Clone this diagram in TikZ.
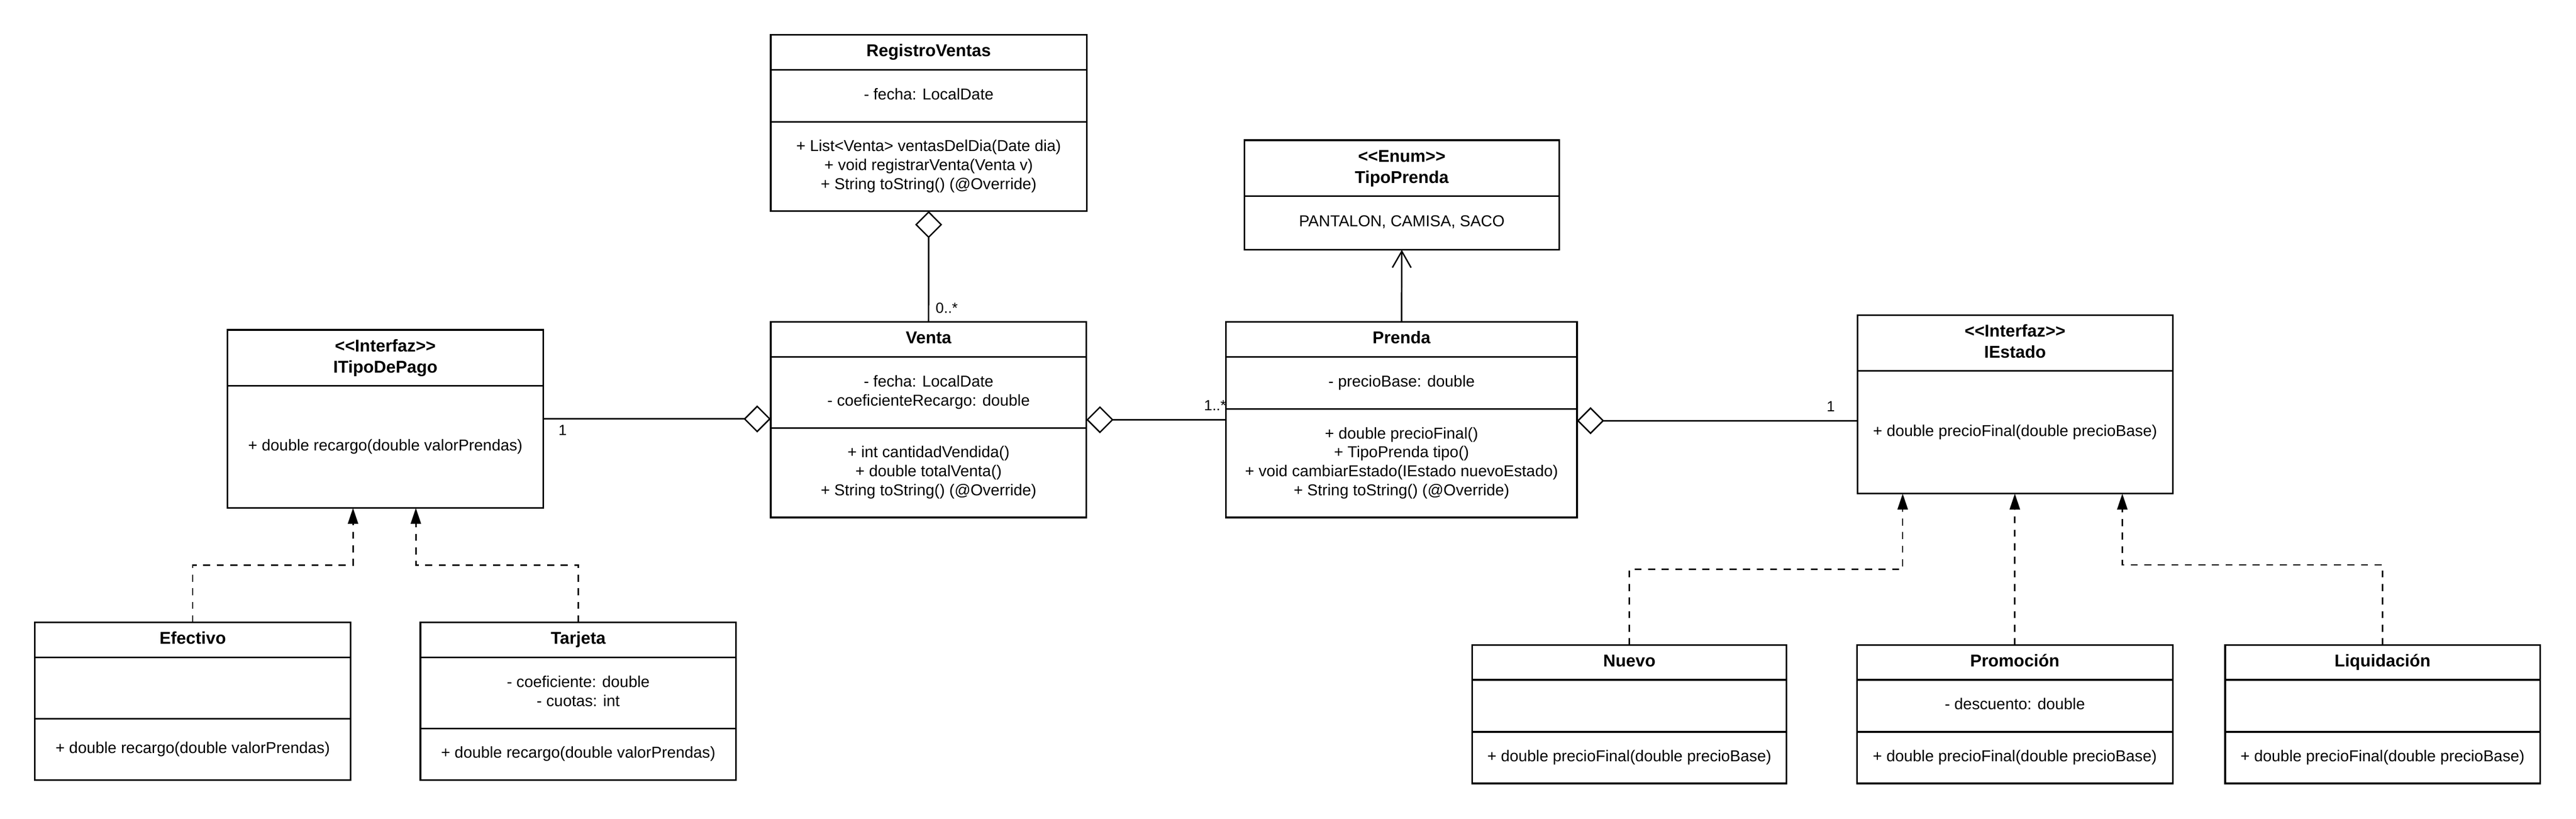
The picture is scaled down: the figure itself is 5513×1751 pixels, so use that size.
\documentclass[tikz,border=0pt]{standalone}
\usepackage{fontspec}
\newfontfamily\umlfont{Liberation Sans}
\usetikzlibrary{arrows.meta,fit}
\begin{document}
\begin{tikzpicture}[x=0.25pt,y=-0.25pt,
  comp/.style={draw, line width=0.875pt, inner sep=0pt, outer sep=0pt},
  whole/.style={inner sep=0pt, outer sep=0pt},
  txt/.style={inner sep=0pt, outer sep=0pt, align=center, anchor=center,
    font=\umlfont\fontsize{8.45pt}{10.125pt}\selectfont},
  ttl/.style={txt, font=\umlfont\bfseries\fontsize{9.15pt}{11pt}\selectfont},
  hdr/.style={txt, font=\umlfont\bfseries\fontsize{9.15pt}{11.3pt}\selectfont},
  mult/.style={inner sep=0pt, font=\umlfont\fontsize{7.875pt}{9.5pt}\selectfont},
  conn/.style={line width=0.75pt},
  aggr/.style={conn, {Diamond[open, length=14.5pt, width=14.5pt]}-},
  real/.style={conn, dash pattern=on 3.75pt off 3.5pt, -{Triangle[length=8.5pt, width=5.5pt]}},
  dep/.style={conn, -{Straight Barb[length=8.75pt, width=10pt]}}
]
\fill[white] (0,0) rectangle (5513,1751);
\useasboundingbox (0,0) rectangle (5513,1751);

% RegistroVentas
\node[comp, fit={(1649.5,74.8) (2325.5,149.4)}] (rv-h) {};
\node[comp, fit={(1649.5,149.4) (2325.5,261)}] (rv-a) {};
\node[comp, fit={(1649.5,261) (2325.5,451.6)}] (rv-m) {};
\node[whole, fit=(rv-h)(rv-m)] (rv) {};
\node[ttl] (rv-ht) at (rv-h.center) {\strut RegistroVentas};
\node[txt] (rv-at) at (rv-a.center) {\strut - fecha: LocalDate};
\node[txt] (rv-mt) at (rv-m.center) {\strut + List<Venta> ventasDelDia(Date dia)\\ \strut + void registrarVenta(Venta v)\\ \strut + String toString() (@Override)};

% Venta
\node[comp, fit={(1649.5,689) (2325,763.7)}] (ve-h) {};
\node[comp, fit={(1649.5,763.7) (2325,916)}] (ve-a) {};
\node[comp, fit={(1649.5,916) (2325,1107)}] (ve-m) {};
\node[whole, fit=(ve-h)(ve-m)] (ve) {};
\node[ttl] (ve-ht) at (ve-h.center) {\strut Venta};
\node[txt] (ve-at) at (ve-a.center) {\strut - fecha: LocalDate\\ \strut - coeficienteRecargo: double};
\node[txt] (ve-mt) at (ve-m.center) {\strut + int cantidadVendida()\\ \strut + double totalVenta()\\ \strut + String toString() (@Override)};

% Prenda
\node[comp, fit={(2624,688.5) (3375,763.5)}] (pr-h) {};
\node[comp, fit={(2624,763.5) (3375,875)}] (pr-a) {};
\node[comp, fit={(2624,875) (3375,1107)}] (pr-m) {};
\node[whole, fit=(pr-h)(pr-m)] (pr) {};
\node[ttl] (pr-ht) at (pr-h.center) {\strut Prenda};
\node[txt] (pr-at) at (pr-a.center) {\strut - precioBase: double};
\node[txt] (pr-mt) at (pr-m.center) {\strut + double precioFinal()\\ \strut + TipoPrenda tipo()\\ \strut + void cambiarEstado(IEstado nuevoEstado)\\ \strut + String toString() (@Override)};

% TipoPrenda
\node[comp, fit={(2663,300) (3337,419.6)}] (tp-h) {};
\node[comp, fit={(2663,419.6) (3337,534.5)}] (tp-a) {};
\node[whole, fit=(tp-h)(tp-a)] (tp) {};
\node[hdr] (tp-ht) at (tp-h.center) {\strut <<Enum>>\\ \strut TipoPrenda};
\node[txt] (tp-at) at (tp-a.center) {\strut PANTALON, CAMISA, SACO};

% ITipoDePago
\node[comp, fit={(487,705.7) (1162.5,825.7)}] (itp-h) {};
\node[comp, fit={(487,825.7) (1162.5,1086.7)}] (itp-m) {};
\node[whole, fit=(itp-h)(itp-m)] (itp) {};
\node[hdr] (itp-ht) at (itp-h.center) {\strut <<Interfaz>>\\ \strut ITipoDePago};
\node[txt] (itp-mt) at (itp-m.center) {\strut + double recargo(double valorPrendas)};

% IEstado
\node[comp, fit={(3975,674.4) (4650,793.6)}] (ie-h) {};
\node[comp, fit={(3975,793.6) (4650,1056)}] (ie-m) {};
\node[whole, fit=(ie-h)(ie-m)] (ie) {};
\node[hdr] (ie-ht) at (ie-h.center) {\strut <<Interfaz>>\\ \strut IEstado};
\node[txt] (ie-mt) at (ie-m.center) {\strut + double precioFinal(double precioBase)};

% Efectivo
\node[comp, fit={(74.7,1331.6) (750.3,1406.7)}] (ef-h) {};
\node[comp, fit={(74.7,1406.7) (750.3,1537.7)}] (ef-a) {};
\node[comp, fit={(74.7,1537.7) (750.3,1669)}] (ef-m) {};
\node[whole, fit=(ef-h)(ef-m)] (ef) {};
\node[ttl] (ef-ht) at (ef-h.center) {\strut Efectivo};
\node[txt] (ef-mt) at (ef-m.center) {\strut + double recargo(double valorPrendas)};

% Tarjeta
\node[comp, fit={(899.7,1331.6) (1575.3,1406.7)}] (ta-h) {};
\node[comp, fit={(899.7,1406.7) (1575.3,1558.3)}] (ta-a) {};
\node[comp, fit={(899.7,1558.3) (1575.3,1669)}] (ta-m) {};
\node[whole, fit=(ta-h)(ta-m)] (ta) {};
\node[ttl] (ta-ht) at (ta-h.center) {\strut Tarjeta};
\node[txt] (ta-at) at (ta-a.center) {\strut - coeficiente: double\\ \strut - cuotas: int};
\node[txt] (ta-mt) at (ta-m.center) {\strut + double recargo(double valorPrendas)};

% Nuevo
\node[comp, fit={(3151,1380.3) (3823,1454.4)}] (nu-h) {};
\node[comp, fit={(3151,1454.4) (3823,1565.6)}] (nu-a) {};
\node[comp, fit={(3151,1565.6) (3823,1676)}] (nu-m) {};
\node[whole, fit=(nu-h)(nu-m)] (nu) {};
\node[ttl] (nu-ht) at (nu-h.center) {\strut Nuevo};
\node[txt] (nu-mt) at (nu-m.center) {\strut + double precioFinal(double precioBase)};

% Promocion
\node[comp, fit={(3974,1380.3) (4650,1454.4)}] (po-h) {};
\node[comp, fit={(3974,1454.4) (4650,1565.6)}] (po-a) {};
\node[comp, fit={(3974,1565.6) (4650,1676)}] (po-m) {};
\node[whole, fit=(po-h)(po-m)] (po) {};
\node[ttl] (po-ht) at (po-h.center) {\strut Promoción};
\node[txt] (po-at) at (po-a.center) {\strut - descuento: double};
\node[txt] (po-mt) at (po-m.center) {\strut + double precioFinal(double precioBase)};

% Liquidacion
\node[comp, fit={(4762,1380.3) (5436,1454.4)}] (li-h) {};
\node[comp, fit={(4762,1454.4) (5436,1565.6)}] (li-a) {};
\node[comp, fit={(4762,1565.6) (5436,1676)}] (li-m) {};
\node[whole, fit=(li-h)(li-m)] (li) {};
\node[ttl] (li-ht) at (li-h.center) {\strut Liquidación};
\node[txt] (li-mt) at (li-m.center) {\strut + double precioFinal(double precioBase)};

% helper coordinates
\coordinate (yIE) at (0,900);
\coordinate (yEF) at (0,1209);
\coordinate (yNU) at (0,1217.6);
\coordinate (yLI) at (0,1208.4);
\coordinate (xITa) at (755.5,0);
\coordinate (xITb) at (890,0);
\coordinate (xIEa) at (4072,0);
\coordinate (xIEc) at (4542,0);

% associations
\draw[aggr] (rv.south) -- (ve.north);
\draw[aggr] (itp.east -| ve.west) -- (itp.east);
\draw[aggr] (ve.east) -- (ve.east -| pr.west);
\draw[aggr] (pr.east |- yIE) -- (ie.west |- yIE);
\draw[dep] (pr.north) -- (tp.south);

% realizations
\draw[real] (ef.north) |- (xITa |- yEF) -- (xITa |- itp.south);
\draw[real] (ta.north) |- (xITb |- yEF) -- (xITb |- itp.south);
\draw[real] (nu.north) |- (xIEa |- yNU) -- (xIEa |- ie.south);
\draw[real] (po.north) -- (po.north |- ie.south);
\draw[real] (li.north) |- (xIEc |- yLI) -- (xIEc |- ie.south);

% multiplicities
\node[mult, anchor=base west] (m1) at (2001.7,669.5) {0..*};
\node[mult, anchor=base west] (m2) at (1194.6,931) {1};
\node[mult, anchor=base east] (m3) at (2625,878) {1..*};
\node[mult, anchor=base west] (m4) at (3908.6,880) {1};
\end{tikzpicture}
\end{document}
